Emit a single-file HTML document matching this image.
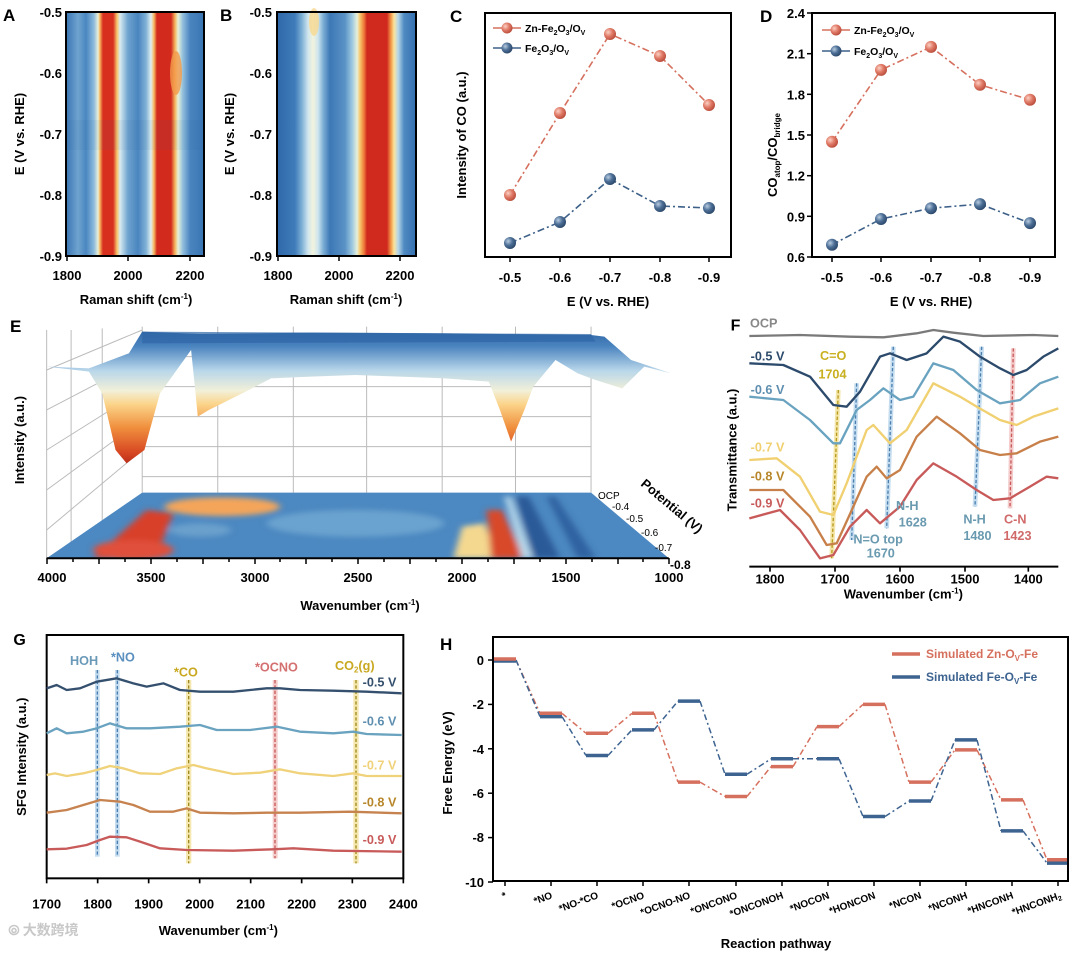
<!DOCTYPE html>
<html><head><meta charset="utf-8"><style>
html,body{margin:0;padding:0;background:#fff}
svg{display:block}
text{font-family:"Liberation Sans",Arial,sans-serif;font-weight:bold}
</style></head><body>
<svg width="1080" height="958" viewBox="0 0 1080 958" xmlns="http://www.w3.org/2000/svg">
<defs>
<linearGradient id="ga" x1="66" x2="204" y1="0" y2="0" gradientUnits="userSpaceOnUse">
<stop offset="0" stop-color="#3a75b4"/><stop offset="0.087" stop-color="#6fa4cf"/><stop offset="0.145" stop-color="#4a86c0"/>
<stop offset="0.203" stop-color="#8dbbdc"/><stop offset="0.232" stop-color="#e9f0d8"/><stop offset="0.246" stop-color="#f6b55e"/>
<stop offset="0.268" stop-color="#d7301f"/><stop offset="0.341" stop-color="#d7301f"/><stop offset="0.370" stop-color="#f8c66c"/>
<stop offset="0.391" stop-color="#d9ebf0"/><stop offset="0.449" stop-color="#6ea3cf"/><stop offset="0.522" stop-color="#4a85bf"/>
<stop offset="0.580" stop-color="#7fb1d6"/><stop offset="0.616" stop-color="#e0eef0"/><stop offset="0.638" stop-color="#f6b55e"/>
<stop offset="0.659" stop-color="#d22b1e"/><stop offset="0.761" stop-color="#d22b1e"/><stop offset="0.790" stop-color="#f6b55e"/>
<stop offset="0.812" stop-color="#e8f1d8"/><stop offset="0.848" stop-color="#8fbddc"/><stop offset="0.899" stop-color="#4a85bf"/>
<stop offset="1" stop-color="#3a75b4"/></linearGradient>
<linearGradient id="gb" x1="277" x2="416" y1="0" y2="0" gradientUnits="userSpaceOnUse">
<stop offset="0" stop-color="#2f68aa"/><stop offset="0.129" stop-color="#3f7bb9"/><stop offset="0.180" stop-color="#7fb1d6"/>
<stop offset="0.223" stop-color="#cfe5ee"/><stop offset="0.259" stop-color="#f2f4dc"/><stop offset="0.295" stop-color="#cfe5ee"/>
<stop offset="0.331" stop-color="#7fb1d6"/><stop offset="0.381" stop-color="#3d78b6"/><stop offset="0.489" stop-color="#5a92c5"/>
<stop offset="0.540" stop-color="#9cc7e0"/><stop offset="0.576" stop-color="#e6f0dc"/><stop offset="0.597" stop-color="#f8c66c"/>
<stop offset="0.626" stop-color="#ee7a3a"/><stop offset="0.647" stop-color="#cf2a1d"/><stop offset="0.791" stop-color="#cf2a1d"/>
<stop offset="0.820" stop-color="#f39a4a"/><stop offset="0.842" stop-color="#fbe29a"/><stop offset="0.871" stop-color="#b7d7e8"/>
<stop offset="0.914" stop-color="#4f8ac2"/><stop offset="1" stop-color="#3570b0"/></linearGradient>
<radialGradient id="sr" cx="0.35" cy="0.35" r="0.7"><stop offset="0" stop-color="#fbd0c4"/><stop offset="0.5" stop-color="#e07a66"/><stop offset="1" stop-color="#b84a3a"/></radialGradient>
<radialGradient id="sb" cx="0.35" cy="0.35" r="0.7"><stop offset="0" stop-color="#b8cce0"/><stop offset="0.5" stop-color="#4d6f96"/><stop offset="1" stop-color="#2a4668"/></radialGradient>
<linearGradient id="gs" x1="0" x2="0" y1="60" y2="465" gradientUnits="userSpaceOnUse">
<stop offset="0" stop-color="#2f66a6"/><stop offset="0.12" stop-color="#4a84bf"/><stop offset="0.3" stop-color="#b8d6ea"/>
<stop offset="0.45" stop-color="#f2f0d8"/><stop offset="0.55" stop-color="#fbd48a"/><stop offset="0.72" stop-color="#f0903e"/>
<stop offset="0.9" stop-color="#d84a24"/><stop offset="1" stop-color="#b82a18"/></linearGradient>
<filter id="bl" x="-20%" y="-20%" width="140%" height="140%"><feGaussianBlur stdDeviation="8"/></filter>
<clipPath id="fl"><polygon points="320,548 1330,548 1505,745 105,745"/></clipPath>
</defs>

<!-- Panel A -->
<rect x="66" y="12" width="138" height="244" fill="url(#ga)"/>
<ellipse cx="176" cy="73" rx="6" ry="22" fill="#f39a4a" opacity="0.8"/>
<rect x="66" y="120" width="138" height="30" fill="#1f4f8f" opacity="0.06"/>
<rect x="66" y="12" width="138" height="244" fill="none" stroke="#000" stroke-width="2"/>
<g font-size="13" text-anchor="end">
<text x="62" y="17">-0.5</text><text x="62" y="78">-0.6</text><text x="62" y="139">-0.7</text><text x="62" y="200">-0.8</text><text x="62" y="261">-0.9</text></g>
<g stroke="#000" stroke-width="1.5"><line x1="67" y1="256" x2="67" y2="261"/><line x1="128" y1="256" x2="128" y2="261"/><line x1="190" y1="256" x2="190" y2="261"/></g>
<g font-size="13" text-anchor="middle"><text x="67" y="280">1800</text><text x="128" y="280">2000</text><text x="190" y="280">2200</text></g>
<text x="136" y="304" font-size="13" text-anchor="middle">Raman shift (cm<tspan font-size="8" dy="-5">-1</tspan><tspan dy="5">)</tspan></text>
<text x="0" y="0" font-size="13" text-anchor="middle" transform="translate(24,134) rotate(-90)">E (V vs. RHE)</text>
<text x="3" y="21" font-size="17">A</text>

<!-- Panel B -->
<rect x="277" y="12" width="139" height="244" fill="url(#gb)"/>
<ellipse cx="314" cy="22" rx="5" ry="14" fill="#f8d890" opacity="0.8"/>
<rect x="277" y="12" width="139" height="244" fill="none" stroke="#000" stroke-width="2"/>
<g font-size="13" text-anchor="end">
<text x="272" y="17">-0.5</text><text x="272" y="78">-0.6</text><text x="272" y="139">-0.7</text><text x="272" y="200">-0.8</text><text x="272" y="261">-0.9</text></g>
<g stroke="#000" stroke-width="1.5"><line x1="278" y1="256" x2="278" y2="261"/><line x1="339" y1="256" x2="339" y2="261"/><line x1="400" y1="256" x2="400" y2="261"/></g>
<g font-size="13" text-anchor="middle"><text x="278" y="280">1800</text><text x="339" y="280">2000</text><text x="400" y="280">2200</text></g>
<text x="346" y="304" font-size="13" text-anchor="middle">Raman shift (cm<tspan font-size="8" dy="-5">-1</tspan><tspan dy="5">)</tspan></text>
<text x="0" y="0" font-size="13" text-anchor="middle" transform="translate(234,134) rotate(-90)">E (V vs. RHE)</text>
<text x="220" y="21" font-size="17">B</text>

<!-- Panel C -->
<rect x="485" y="13" width="246" height="244" fill="none" stroke="#000" stroke-width="2"/>
<g stroke="#000" stroke-width="1.5"><line x1="510" y1="257" x2="510" y2="262"/><line x1="560" y1="257" x2="560" y2="262"/><line x1="610" y1="257" x2="610" y2="262"/><line x1="660" y1="257" x2="660" y2="262"/><line x1="709" y1="257" x2="709" y2="262"/></g>
<g font-size="13" text-anchor="middle"><text x="510" y="282">-0.5</text><text x="560" y="282">-0.6</text><text x="610" y="282">-0.7</text><text x="660" y="282">-0.8</text><text x="709" y="282">-0.9</text></g>
<text x="608" y="306" font-size="13" text-anchor="middle">E (V vs. RHE)</text>
<text x="0" y="0" font-size="13" text-anchor="middle" transform="translate(466,135) rotate(-90)">Intensity of CO (a.u.)</text>
<text x="450" y="22" font-size="17">C</text>
<polyline points="510,195 560,113 610,34 660,56 709,105" fill="none" stroke="#d6705e" stroke-width="1.6" stroke-dasharray="7,3,2,3"/>
<polyline points="510,243 560,222 610,179 660,206 709,208" fill="none" stroke="#3d6088" stroke-width="1.6" stroke-dasharray="7,3,2,3"/>
<g fill="url(#sr)"><circle cx="510" cy="195" r="6"/><circle cx="560" cy="113" r="6"/><circle cx="610" cy="34" r="6"/><circle cx="660" cy="56" r="6"/><circle cx="709" cy="105" r="6"/></g>
<g fill="url(#sb)"><circle cx="510" cy="243" r="6"/><circle cx="560" cy="222" r="6"/><circle cx="610" cy="179" r="6"/><circle cx="660" cy="206" r="6"/><circle cx="709" cy="208" r="6"/></g>
<line x1="493" y1="28" x2="521" y2="28" stroke="#d6705e" stroke-width="1.6"/><circle cx="507" cy="28" r="5.5" fill="url(#sr)"/>
<line x1="493" y1="48" x2="521" y2="48" stroke="#3d6088" stroke-width="1.6"/><circle cx="507" cy="48" r="5.5" fill="url(#sb)"/>
<text x="525" y="32" font-size="10.5">Zn-Fe<tspan font-size="7" dy="3">2</tspan><tspan dy="-3">O</tspan><tspan font-size="7" dy="3">3</tspan><tspan dy="-3">/O</tspan><tspan font-size="7" dy="3">V</tspan></text>
<text x="525" y="52" font-size="10.5">Fe<tspan font-size="7" dy="3">2</tspan><tspan dy="-3">O</tspan><tspan font-size="7" dy="3">3</tspan><tspan dy="-3">/O</tspan><tspan font-size="7" dy="3">V</tspan></text>

<!-- Panel D -->
<rect x="812" y="13" width="243" height="244" fill="none" stroke="#000" stroke-width="2"/>
<g stroke="#000" stroke-width="1.5"><line x1="832" y1="257" x2="832" y2="262"/><line x1="881" y1="257" x2="881" y2="262"/><line x1="931" y1="257" x2="931" y2="262"/><line x1="980" y1="257" x2="980" y2="262"/><line x1="1030" y1="257" x2="1030" y2="262"/>
<line x1="807" y1="13" x2="812" y2="13"/><line x1="807" y1="53.7" x2="812" y2="53.7"/><line x1="807" y1="94.3" x2="812" y2="94.3"/><line x1="807" y1="135" x2="812" y2="135"/><line x1="807" y1="175.7" x2="812" y2="175.7"/><line x1="807" y1="216.3" x2="812" y2="216.3"/><line x1="807" y1="257" x2="812" y2="257"/></g>
<g font-size="13" text-anchor="end"><text x="805" y="18">2.4</text><text x="805" y="58.7">2.1</text><text x="805" y="99.3">1.8</text><text x="805" y="140">1.5</text><text x="805" y="180.7">1.2</text><text x="805" y="221.3">0.9</text><text x="805" y="262">0.6</text></g>
<g font-size="13" text-anchor="middle"><text x="832" y="282">-0.5</text><text x="881" y="282">-0.6</text><text x="931" y="282">-0.7</text><text x="980" y="282">-0.8</text><text x="1030" y="282">-0.9</text></g>
<text x="931" y="306" font-size="13" text-anchor="middle">E (V vs. RHE)</text>
<text x="0" y="0" font-size="13" text-anchor="middle" transform="translate(777,155) rotate(-90)">CO<tspan font-size="8" dy="3">atop</tspan><tspan dy="-3">/CO</tspan><tspan font-size="8" dy="3">bridge</tspan></text>
<text x="760" y="22" font-size="17">D</text>
<polyline points="832,141.8 881,69.9 931,46.9 980,84.8 1030,99.8" fill="none" stroke="#d6705e" stroke-width="1.6" stroke-dasharray="7,3,2,3"/>
<polyline points="832,244.8 881,219 931,208.2 980,204.1 1030,223.1" fill="none" stroke="#3d6088" stroke-width="1.6" stroke-dasharray="7,3,2,3"/>
<g fill="url(#sr)"><circle cx="832" cy="141.8" r="6"/><circle cx="881" cy="69.9" r="6"/><circle cx="931" cy="46.9" r="6"/><circle cx="980" cy="84.8" r="6"/><circle cx="1030" cy="99.8" r="6"/></g>
<g fill="url(#sb)"><circle cx="832" cy="244.8" r="6"/><circle cx="881" cy="219" r="6"/><circle cx="931" cy="208.2" r="6"/><circle cx="980" cy="204.1" r="6"/><circle cx="1030" cy="223.1" r="6"/></g>
<line x1="822" y1="30" x2="850" y2="30" stroke="#d6705e" stroke-width="1.6"/><circle cx="836" cy="30" r="5.5" fill="url(#sr)"/>
<line x1="822" y1="51" x2="850" y2="51" stroke="#3d6088" stroke-width="1.6"/><circle cx="836" cy="51" r="5.5" fill="url(#sb)"/>
<text x="854" y="34" font-size="10.5">Zn-Fe<tspan font-size="7" dy="3">2</tspan><tspan dy="-3">O</tspan><tspan font-size="7" dy="3">3</tspan><tspan dy="-3">/O</tspan><tspan font-size="7" dy="3">V</tspan></text>
<text x="854" y="55" font-size="10.5">Fe<tspan font-size="7" dy="3">2</tspan><tspan dy="-3">O</tspan><tspan font-size="7" dy="3">3</tspan><tspan dy="-3">/O</tspan><tspan font-size="7" dy="3">V</tspan></text>

<!-- Panel E -->
<g transform="translate(0,310) scale(0.4444,0.3333)">
<g stroke="#bbb" stroke-width="1" fill="none">
<line x1="320" y1="50" x2="320" y2="548" vector-effect="non-scaling-stroke"/><line x1="1330" y1="50" x2="1330" y2="548" vector-effect="non-scaling-stroke"/>
<line x1="490" y1="50" x2="490" y2="548" vector-effect="non-scaling-stroke"/><line x1="660" y1="50" x2="660" y2="548" vector-effect="non-scaling-stroke"/><line x1="825" y1="50" x2="825" y2="548" vector-effect="non-scaling-stroke"/><line x1="995" y1="50" x2="995" y2="548" vector-effect="non-scaling-stroke"/><line x1="1160" y1="50" x2="1160" y2="548" vector-effect="non-scaling-stroke"/>
<line x1="320" y1="140" x2="1330" y2="140" vector-effect="non-scaling-stroke"/><line x1="320" y1="230" x2="1330" y2="230" vector-effect="non-scaling-stroke"/><line x1="320" y1="320" x2="1330" y2="320" vector-effect="non-scaling-stroke"/><line x1="320" y1="410" x2="1330" y2="410" vector-effect="non-scaling-stroke"/><line x1="320" y1="500" x2="1330" y2="500" vector-effect="non-scaling-stroke"/>
<line x1="105" y1="60" x2="105" y2="745" vector-effect="non-scaling-stroke"/>
<line x1="105" y1="180" x2="320" y2="60" vector-effect="non-scaling-stroke"/><line x1="105" y1="300" x2="320" y2="150" vector-effect="non-scaling-stroke"/><line x1="105" y1="420" x2="320" y2="240" vector-effect="non-scaling-stroke"/><line x1="105" y1="540" x2="320" y2="330" vector-effect="non-scaling-stroke"/><line x1="105" y1="660" x2="320" y2="420" vector-effect="non-scaling-stroke"/>
<line x1="160" y1="60" x2="160" y2="700" vector-effect="non-scaling-stroke"/><line x1="230" y1="55" x2="230" y2="640" vector-effect="non-scaling-stroke"/>
</g>
<polygon points="105,170 200,185 230,250 260,420 285,460 325,420 335,370 360,250 430,120 440,250 445,320 470,300 560,240 610,205 700,200 800,195 900,200 1000,205 1100,215 1125,300 1150,395 1180,300 1200,230 1250,150 1300,190 1340,210 1400,235 1450,170 1510,190 1420,150 1360,80 1330,75 1000,70 700,68 450,72 320,65 290,130 250,150 200,175"
 fill="url(#gs)"/>
<polygon points="320,65 1330,72 1340,95 320,100" fill="#2f66a6" opacity="0.7"/>
<polygon points="320,548 1330,548 1505,745 105,745" fill="#4c88c1"/>
<g clip-path="url(#fl)">
<g filter="url(#bl)">
<ellipse cx="500" cy="590" rx="130" ry="28" fill="#f4a55a"/>
<polygon points="210,745 350,745 390,610 330,600" fill="#d8402a"/>
<ellipse cx="300" cy="720" rx="90" ry="30" fill="#e0503a"/>
<polygon points="1020,745 1120,745 1090,640 1040,650" fill="#f4d890"/>
<polygon points="1105,745 1180,745 1130,600 1095,600" fill="#d84a2a"/>
<polygon points="1200,745 1260,745 1190,560 1160,560" fill="#2a5a98"/>
<polygon points="1300,745 1340,745 1250,560 1230,560" fill="#2f62a0"/>
<polygon points="1175,745 1200,745 1150,560 1135,560" fill="#b8d8ea"/>
<ellipse cx="450" cy="660" rx="70" ry="20" fill="#6aa0cc"/>
<ellipse cx="800" cy="640" rx="200" ry="40" fill="#6aa3cf"/>
</g></g>
<line x1="105" y1="745" x2="1505" y2="745" stroke="#000" stroke-width="2" vector-effect="non-scaling-stroke"/>
</g>
<g stroke="#000" stroke-width="1.5">
<line x1="47" y1="558" x2="47" y2="564"/><line x1="73" y1="558" x2="73" y2="562"/><line x1="99" y1="558" x2="99" y2="564"/><line x1="125" y1="558" x2="125" y2="562"/><line x1="151" y1="558" x2="151" y2="564"/><line x1="177" y1="558" x2="177" y2="562"/><line x1="203" y1="558" x2="203" y2="564"/><line x1="229" y1="558" x2="229" y2="562"/><line x1="255" y1="558" x2="255" y2="564"/><line x1="280" y1="558" x2="280" y2="562"/><line x1="306" y1="558" x2="306" y2="564"/><line x1="332" y1="558" x2="332" y2="562"/><line x1="358" y1="558" x2="358" y2="564"/><line x1="384" y1="558" x2="384" y2="562"/><line x1="410" y1="558" x2="410" y2="564"/><line x1="436" y1="558" x2="436" y2="562"/><line x1="462" y1="558" x2="462" y2="564"/><line x1="488" y1="558" x2="488" y2="562"/><line x1="514" y1="558" x2="514" y2="564"/><line x1="540" y1="558" x2="540" y2="562"/><line x1="566" y1="558" x2="566" y2="564"/><line x1="592" y1="558" x2="592" y2="562"/><line x1="618" y1="558" x2="618" y2="564"/><line x1="643" y1="558" x2="643" y2="562"/><line x1="669" y1="558" x2="669" y2="564"/>
</g>
<g font-size="13" text-anchor="middle"><text x="52" y="582">4000</text><text x="151" y="582">3500</text><text x="255" y="582">3000</text><text x="358" y="582">2500</text><text x="462" y="582">2000</text><text x="566" y="582">1500</text><text x="669" y="582">1000</text></g>
<text x="360" y="610" font-size="13" text-anchor="middle">Wavenumber (cm<tspan font-size="8" dy="-5">-1</tspan><tspan dy="5">)</tspan></text>
<text x="0" y="0" font-size="13" text-anchor="middle" transform="translate(24,440) rotate(-90)">Intensity (a.u.)</text>
<text x="10" y="332" font-size="17">E</text>
<g font-size="10"><text x="598" y="499" style="font-weight:normal">OCP</text><text x="612" y="510" style="font-weight:normal">-0.4</text><text x="626" y="522" style="font-weight:normal">-0.5</text><text x="641" y="536" style="font-weight:normal">-0.6</text><text x="655" y="551" style="font-weight:normal">-0.7</text><text x="670" y="569" font-size="12">-0.8</text></g>
<text x="0" y="0" font-size="13" transform="translate(640,485) rotate(40)">Potential (V)</text>

<!-- Panel F -->
<g transform="translate(700,310) scale(0.33333)">
<g stroke-width="14" opacity="0.45">
<line x1="415" y1="240" x2="395" y2="745" stroke="#e8c840"/>
<line x1="470" y1="220" x2="455" y2="690" stroke="#7fb6dc"/>
<line x1="580" y1="110" x2="560" y2="655" stroke="#7fb6dc"/>
<line x1="845" y1="110" x2="825" y2="590" stroke="#7fb6dc"/>
<line x1="940" y1="115" x2="930" y2="595" stroke="#e89090"/>
</g>
<g stroke-width="4" stroke-dasharray="10,6" fill="none">
<line x1="415" y1="240" x2="395" y2="745" stroke="#b89a20"/>
<line x1="470" y1="220" x2="455" y2="690" stroke="#4a7fb0"/>
<line x1="580" y1="110" x2="560" y2="655" stroke="#4a7fb0"/>
<line x1="845" y1="110" x2="825" y2="590" stroke="#4a7fb0"/>
<line x1="940" y1="115" x2="930" y2="595" stroke="#c85a5a"/>
</g>
<g fill="none" stroke-width="7" stroke-linejoin="round">
<polyline stroke="#7a7a7a" points="148,78 300,75 450,80 550,82 650,70 700,60 760,68 850,78 1000,75 1075,78"/>
<polyline stroke="#2c4a6b" points="148,160 250,165 330,200 400,285 440,290 480,245 540,140 570,130 620,150 680,130 730,80 780,95 840,140 900,175 940,195 980,180 1030,140 1075,115"/>
<polyline stroke="#6aa3c0" points="148,260 250,270 330,330 400,400 420,400 470,300 510,270 550,235 600,270 640,260 700,160 760,180 830,240 900,280 960,270 1020,220 1075,200"/>
<polyline stroke="#f0d070" points="148,450 230,445 300,500 360,605 400,615 440,520 500,360 520,345 570,400 620,360 700,220 780,260 830,290 900,330 950,345 1000,320 1075,295"/>
<polyline stroke="#c8804a" points="148,540 250,540 330,620 380,705 410,700 460,590 500,500 530,470 560,505 600,480 650,380 710,320 780,370 840,420 900,435 950,430 1020,395 1075,380"/>
<polyline stroke="#c85a5a" points="148,625 240,600 300,660 360,745 400,735 450,650 500,600 540,640 600,590 650,510 700,460 770,500 830,540 880,570 930,565 990,530 1040,500 1075,505"/>
</g>
<line x1="148" y1="770" x2="1075" y2="770" stroke="#000" stroke-width="6"/>
<g stroke="#000" stroke-width="5"><line x1="210" y1="770" x2="210" y2="785"/><line x1="405" y1="770" x2="405" y2="785"/><line x1="600" y1="770" x2="600" y2="785"/><line x1="795" y1="770" x2="795" y2="785"/><line x1="985" y1="770" x2="985" y2="785"/></g>
<g font-size="39" text-anchor="middle"><text x="210" y="820">1800</text><text x="405" y="820">1700</text><text x="600" y="820">1600</text><text x="795" y="820">1500</text><text x="985" y="820">1400</text></g>
<text x="610" y="865" font-size="39" text-anchor="middle">Wavenumber (cm<tspan font-size="24" dy="-15">-1</tspan><tspan dy="15">)</tspan></text>
<text x="0" y="0" font-size="39" text-anchor="middle" transform="translate(110,420) rotate(-90)">Transmittance (a.u.)</text>
<text x="92" y="62" font-size="48">F</text>
<text x="150" y="52" fill="#888" font-size="38">OCP</text>
<g font-size="38">
<text x="152" y="152" fill="#2c4a6b">-0.5 V</text>
<text x="152" y="252" fill="#5f8fb0">-0.6 V</text>
<text x="152" y="425" fill="#f0d070">-0.7 V</text>
<text x="152" y="512" fill="#b8862a">-0.8 V</text>
<text x="152" y="592" fill="#c85a5a">-0.9 V</text>
<text x="360" y="150" fill="#c9b020">C=O</text>
<text x="355" y="205" fill="#c9b020">1704</text>
<text x="588" y="600" fill="#6a9ab0">N-H</text>
<text x="596" y="650" fill="#6a9ab0">1628</text>
<text x="460" y="700" fill="#6a9ab0">N=O top</text>
<text x="500" y="742" fill="#6a9ab0">1670</text>
<text x="790" y="640" fill="#6a9ab0">N-H</text>
<text x="790" y="690" fill="#6a9ab0">1480</text>
<text x="912" y="640" fill="#d06a6a">C-N</text>
<text x="910" y="690" fill="#d06a6a">1423</text>
</g>
</g>

<!-- Panel G -->
<g transform="translate(0,620) scale(0.33333)">
<rect x="140" y="45" width="1070" height="730" fill="none" stroke="#000" stroke-width="6"/>
<g opacity="0.45">
<rect x="285" y="150" width="14" height="560" fill="#7fb6dc"/>
<rect x="345" y="150" width="14" height="560" fill="#7fb6dc"/>
<rect x="558" y="180" width="16" height="550" fill="#e8cc50"/>
<rect x="818" y="180" width="15" height="535" fill="#e89090"/>
<rect x="1060" y="180" width="16" height="550" fill="#e8cc50"/>
</g>
<g stroke-width="4" stroke-dasharray="10,6">
<line x1="292" y1="150" x2="292" y2="710" stroke="#4a7fb0"/>
<line x1="352" y1="150" x2="352" y2="710" stroke="#4a7fb0"/>
<line x1="566" y1="180" x2="566" y2="730" stroke="#a08a20"/>
<line x1="825" y1="180" x2="825" y2="715" stroke="#c85a5a"/>
<line x1="1068" y1="180" x2="1068" y2="730" stroke="#a08a20"/>
</g>
<g fill="none" stroke-width="7" stroke-linejoin="round">
<polyline stroke="#34506e" points="140,205 170,195 200,210 240,205 290,185 350,175 400,190 440,200 490,190 540,210 600,215 700,215 800,205 840,205 900,210 1000,212 1100,215 1205,220"/>
<polyline stroke="#6aa3c0" points="140,340 170,325 200,340 250,335 290,325 330,310 380,325 450,325 540,320 600,315 650,330 750,330 830,320 900,335 1000,340 1060,335 1100,342 1205,345"/>
<polyline stroke="#f0d27a" points="140,465 165,460 200,468 250,460 290,450 330,438 370,445 420,460 480,462 530,445 580,435 620,445 700,462 780,458 840,448 900,460 1000,468 1060,460 1100,468 1205,468"/>
<polyline stroke="#c7834f" points="140,578 200,570 250,555 300,540 360,545 400,555 450,575 520,575 560,565 600,578 700,580 800,578 900,578 1050,575 1205,580"/>
<polyline stroke="#c85a5a" points="140,688 200,686 260,675 300,660 330,650 380,652 420,665 480,685 560,690 700,692 820,688 880,685 1000,692 1205,695"/>
</g>
<g stroke="#000" stroke-width="5"><line x1="140" y1="775" x2="140" y2="790"/><line x1="293" y1="775" x2="293" y2="790"/><line x1="446" y1="775" x2="446" y2="790"/><line x1="599" y1="775" x2="599" y2="790"/><line x1="752" y1="775" x2="752" y2="790"/><line x1="905" y1="775" x2="905" y2="790"/><line x1="1057" y1="775" x2="1057" y2="790"/><line x1="1210" y1="775" x2="1210" y2="790"/></g>
<g font-size="39" text-anchor="middle"><text x="140" y="865">1700</text><text x="293" y="865">1800</text><text x="446" y="865">1900</text><text x="599" y="865">2000</text><text x="752" y="865">2100</text><text x="905" y="865">2200</text><text x="1057" y="865">2300</text><text x="1210" y="865">2400</text></g>
<text x="655" y="945" font-size="39" text-anchor="middle">Wavenumber (cm<tspan font-size="24" dy="-15">-1</tspan><tspan dy="15">)</tspan></text>
<text x="0" y="0" font-size="39" text-anchor="middle" transform="translate(78,410) rotate(-90)">SFG Intensity (a.u.)</text>
<text x="40" y="75" font-size="48">G</text>
<text x="25" y="945" font-size="42" fill="#c8c8c8" style="font-family:'Noto Sans CJK SC',sans-serif">⦾ 大数跨境</text>
<g font-size="38">
<text x="1088" y="200" fill="#34506e">-0.5 V</text>
<text x="1088" y="316" fill="#5f8fb0">-0.6 V</text>
<text x="1088" y="448" fill="#f0d27a">-0.7 V</text>
<text x="1088" y="560" fill="#b8862a">-0.8 V</text>
<text x="1088" y="672" fill="#c85a5a">-0.9 V</text>
<text x="210" y="135" fill="#6a9ab8">HOH</text>
<text x="333" y="125" fill="#5a8fc0">*NO</text>
<text x="522" y="170" fill="#c9a820">*CO</text>
<text x="765" y="155" fill="#d57070">*OCNO</text>
<text x="1005" y="150" fill="#c9a820">CO<tspan font-size="24" dy="8">2</tspan><tspan dy="-8">(g)</tspan></text>
</g>
</g>

<!-- Panel H -->
<rect x="493" y="637" width="575" height="244" fill="none" stroke="#000" stroke-width="2"/>
<g stroke="#000" stroke-width="1.5">
<line x1="488" y1="660" x2="493" y2="660"/><line x1="488" y1="704.4" x2="493" y2="704.4"/><line x1="488" y1="748.8" x2="493" y2="748.8"/><line x1="488" y1="793.2" x2="493" y2="793.2"/><line x1="488" y1="837.6" x2="493" y2="837.6"/><line x1="488" y1="882" x2="493" y2="882"/>
<line x1="505" y1="881" x2="505" y2="886"/><line x1="551" y1="881" x2="551" y2="886"/><line x1="597" y1="881" x2="597" y2="886"/><line x1="643" y1="881" x2="643" y2="886"/><line x1="689" y1="881" x2="689" y2="886"/><line x1="736" y1="881" x2="736" y2="886"/><line x1="782" y1="881" x2="782" y2="886"/><line x1="828" y1="881" x2="828" y2="886"/><line x1="874" y1="881" x2="874" y2="886"/><line x1="920" y1="881" x2="920" y2="886"/><line x1="966" y1="881" x2="966" y2="886"/><line x1="1012" y1="881" x2="1012" y2="886"/><line x1="1058" y1="881" x2="1058" y2="886"/>
</g>
<g font-size="13" text-anchor="end"><text x="484" y="665">0</text><text x="484" y="709">-2</text><text x="484" y="754">-4</text><text x="484" y="798">-6</text><text x="484" y="842">-8</text><text x="484" y="887">-10</text></g>
<text x="0" y="0" font-size="13" text-anchor="middle" transform="translate(452,763) rotate(-90)">Free Energy (eV)</text>
<text x="440" y="650" font-size="17">H</text>
<g font-size="10" text-anchor="end">
<text transform="translate(507,898) rotate(-20)">*</text>
<text transform="translate(553,898) rotate(-20)">*NO</text>
<text transform="translate(599,898) rotate(-20)">*NO-*CO</text>
<text transform="translate(645,898) rotate(-20)">*OCNO</text>
<text transform="translate(691,898) rotate(-20)">*OCNO-NO</text>
<text transform="translate(738,898) rotate(-20)">*ONCONO</text>
<text transform="translate(784,898) rotate(-20)">*ONCONOH</text>
<text transform="translate(830,898) rotate(-20)">*NOCON</text>
<text transform="translate(876,898) rotate(-20)">*HONCON</text>
<text transform="translate(922,898) rotate(-20)">*NCON</text>
<text transform="translate(968,898) rotate(-20)">*NCONH</text>
<text transform="translate(1014,898) rotate(-20)">*HNCONH</text>
<text transform="translate(1062,898) rotate(-20)">*HNCONH<tspan font-size="7" dy="2">2</tspan></text>
</g>
<text x="776" y="948" font-size="13" text-anchor="middle">Reaction pathway</text>
<g fill="none" stroke="#d6705e" stroke-width="1.5" stroke-dasharray="6,3,2,3">
<polyline points="516,660 540,713.3"/><polyline points="562,713.3 586,733.3"/><polyline points="608,733.3 632,713.3"/><polyline points="654,713.3 678,782.1"/><polyline points="700,782.1 725,796.5"/><polyline points="747,796.5 771,766.6"/><polyline points="793,766.6 817,726.6"/><polyline points="839,726.6 863,704.4"/><polyline points="885,704.4 909,782.1"/><polyline points="931,782.1 955,749.9"/><polyline points="977,749.9 1001,799.9"/><polyline points="1023,799.9 1047,859.8"/>
</g>
<g fill="none" stroke="#3d6390" stroke-width="1.5" stroke-dasharray="6,3,2,3">
<polyline points="516,660 540,716.6"/><polyline points="562,716.6 586,755.5"/><polyline points="608,755.5 632,729.9"/><polyline points="654,729.9 678,701.1"/><polyline points="700,701.1 725,774.3"/><polyline points="747,774.3 771,758.8"/><polyline points="793,758.8 817,758.8"/><polyline points="839,758.8 863,816.5"/><polyline points="885,816.5 909,801"/><polyline points="931,801 955,739.9"/><polyline points="977,739.9 1001,830.9"/><polyline points="1023,830.9 1047,863.1"/>
</g>
<g stroke="#3d6390" stroke-width="3.5">
<line x1="494" y1="661" x2="516" y2="661"/><line x1="540" y1="716.6" x2="562" y2="716.6"/><line x1="586" y1="755.5" x2="608" y2="755.5"/><line x1="632" y1="729.9" x2="654" y2="729.9"/><line x1="678" y1="701.1" x2="700" y2="701.1"/><line x1="725" y1="774.3" x2="747" y2="774.3"/><line x1="771" y1="758.8" x2="793" y2="758.8"/><line x1="817" y1="758.8" x2="839" y2="758.8"/><line x1="863" y1="816.5" x2="885" y2="816.5"/><line x1="909" y1="801" x2="931" y2="801"/><line x1="955" y1="739.9" x2="977" y2="739.9"/><line x1="1001" y1="830.9" x2="1023" y2="830.9"/><line x1="1047" y1="863.1" x2="1067" y2="863.1"/>
</g>
<g stroke="#d6705e" stroke-width="3.5">
<line x1="494" y1="659" x2="516" y2="659"/><line x1="540" y1="713.3" x2="562" y2="713.3"/><line x1="586" y1="733.3" x2="608" y2="733.3"/><line x1="632" y1="713.3" x2="654" y2="713.3"/><line x1="678" y1="782.1" x2="700" y2="782.1"/><line x1="725" y1="796.5" x2="747" y2="796.5"/><line x1="771" y1="766.6" x2="793" y2="766.6"/><line x1="817" y1="726.6" x2="839" y2="726.6"/><line x1="863" y1="704.4" x2="885" y2="704.4"/><line x1="909" y1="782.1" x2="931" y2="782.1"/><line x1="955" y1="749.9" x2="977" y2="749.9"/><line x1="1001" y1="799.9" x2="1023" y2="799.9"/><line x1="1047" y1="859.8" x2="1067" y2="859.8"/>
</g>
<line x1="892" y1="654" x2="920" y2="654" stroke="#d6705e" stroke-width="3.5"/>
<line x1="892" y1="677" x2="920" y2="677" stroke="#3d6390" stroke-width="3.5"/>
<text x="926" y="658" font-size="12" fill="#d6705e">Simulated Zn-O<tspan font-size="8" dy="3">V</tspan><tspan dy="-3">-Fe</tspan></text>
<text x="926" y="681" font-size="12" fill="#3d6390">Simulated Fe-O<tspan font-size="8" dy="3">V</tspan><tspan dy="-3">-Fe</tspan></text>
</svg>
</body></html>
